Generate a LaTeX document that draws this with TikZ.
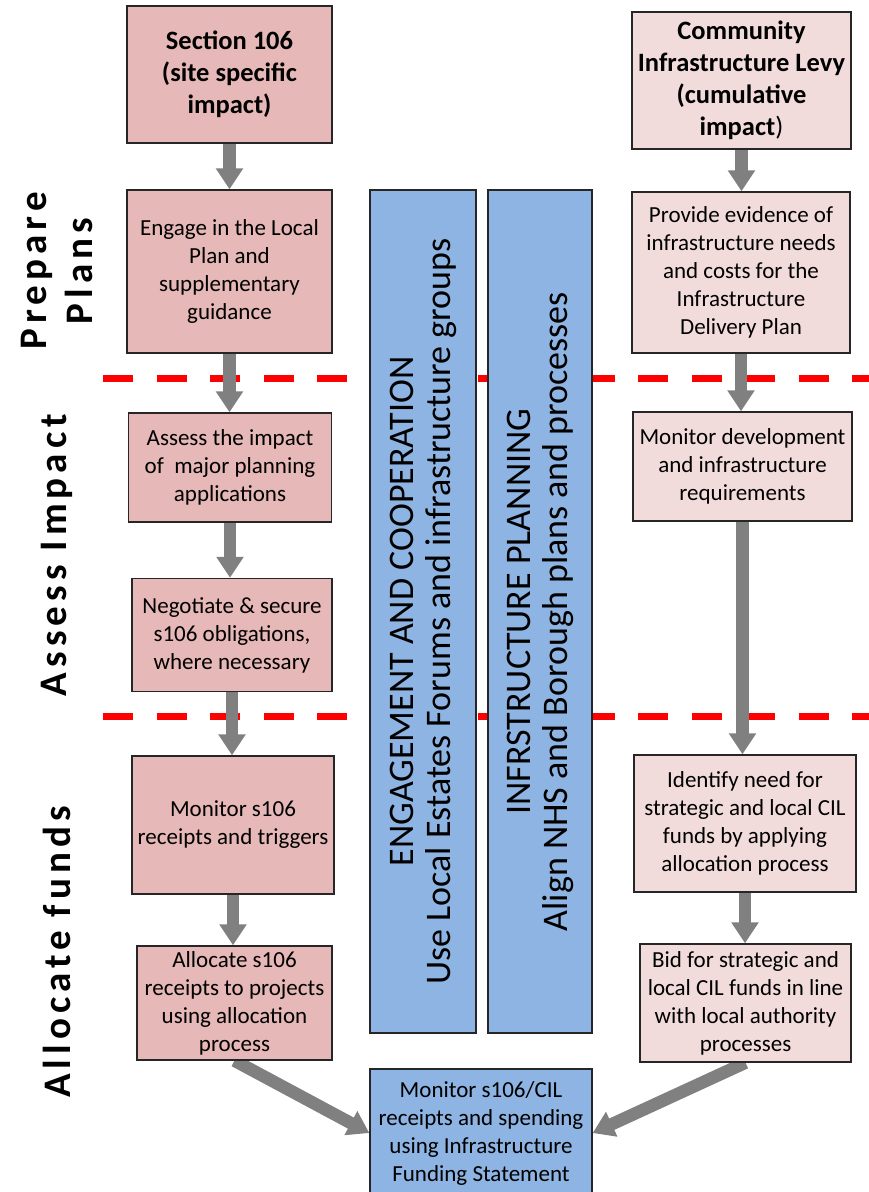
\documentclass[tikz,border=0pt]{standalone}
\usepackage{fontspec}
\setmainfont{Carlito}
\newfontfamily\spacedfont[LetterSpace=13]{Carlito}
\usepackage{xcolor}
\usetikzlibrary{positioning,arrows.meta,backgrounds}
\definecolor{sonepink}{HTML}{E6B8B7}
\definecolor{cilpink}{HTML}{F2DCDB}
\definecolor{barblue}{HTML}{8DB4E2}
\definecolor{arrowgrey}{HTML}{808080}

\begin{document}
\begin{tikzpicture}[x=1pt, y=-1pt,
    box/.style={draw=black!85, line width=1.3pt, align=center, inner sep=0pt,
        font=\fontsize{23}{28}\selectfont},
    wh/.style 2 args={minimum width=#1, minimum height=#2},
    sbox/.style={box, fill=sonepink},
    cbox/.style={box, fill=cilpink},
    bbox/.style={box, fill=barblue},
    head/.style={font=\fontsize{26.5}{32}\selectfont\bfseries},
    bar/.style={bbox, rotate=90, font=\fontsize{36}{37}\selectfont},
    stage/.style={rotate=90, align=center, font=\spacedfont\bfseries\fontsize{39}{46}\selectfont},
    flow/.style={draw=arrowgrey, line width=12.5pt, -{Triangle[width=26pt,length=21pt]}},
    split/.style={draw=red, line width=7pt, dash pattern=on 30pt off 23.5pt}]

    \useasboundingbox (0,0) rectangle (869,1192);

    % stage labels
    \node[stage] (prepare) at (57,271) {Prepare\\Plans};
    \node[stage] (impact) at (57,555) {Assess Impact};
    \node[stage] (funds) at (57,952) {Allocate funds};

    % section 106 column
    \node[sbox, head, wh={205pt}{137pt}] (s106) at (229.5,74.5) {Section 106\\(site specific\\impact)};
    \node[sbox, wh={205pt}{163pt}] (engage) at (229.5,271.5) {Engage in the Local\\Plan and\\supplementary\\guidance};
    \node[sbox, wh={203pt}{109pt}] (assess) at (230,467.5) {Assess the impact\\of~~major planning\\applications};
    \node[sbox, wh={200pt}{113pt}] (negotiate) at (232,635) {Negotiate \& secure\\s106 obligations,\\where necessary};
    \node[sbox, wh={202pt}{138pt}] (monitor) at (233,825) {Monitor s106\\receipts and triggers};
    \node[sbox, wh={195pt}{114pt}] (allocate) at (234.5,1003) {Allocate s106\\receipts to projects\\using allocation\\process};

    % CIL column
    \node[cbox, head, wh={219pt}{137pt}] (cil) at (741.5,80.5) {Community\\Infrastructure Levy\\(cumulative\\impact{\mdseries)}};
    \node[cbox, wh={218pt}{161pt}] (evidence) at (741,272.5) {Provide evidence of\\infrastructure needs\\and costs for the\\Infrastructure\\Delivery Plan};
    \node[cbox, wh={219pt}{109pt}] (monitordev) at (742.5,466.5) {Monitor development\\and infrastructure\\requirements};
    \node[cbox, wh={222pt}{137pt}] (identify) at (745,823.5) {Identify need for\\strategic and local CIL\\funds by applying\\allocation process};
    \node[cbox, wh={211pt}{118pt}] (bid) at (745.5,1003) {Bid for strategic and\\local CIL funds in line\\with local authority\\processes};

    % middle bars
    \node[bar, wh={843pt}{106pt}] (engbar) at (423,611.5) {ENGAGEMENT AND COOPERATION\\Use Local Estates Forums and infrastructure groups};
    \node[bar, wh={843pt}{104pt}] (planbar) at (540,611.5) {INFRSTRUCTURE PLANNING\\Align NHS and Borough plans and processes};
    \node[bbox, wh={222pt}{128pt}] (ifs) at (481,1133) {Monitor s106/CIL\\receipts and spending\\using Infrastructure\\Funding Statement};

    \coordinate (cutA) at (103,378);
    \coordinate (cutB) at (103,716.5);

    \begin{scope}[on background layer]
        \draw[split] (cutA) -- (cutA -| 869,0);
        \draw[split] (cutB) -- (cutB -| 869,0);

        \foreach \a/\b in {s106/engage, engage/assess, assess/negotiate, negotiate/monitor, monitor/allocate,
                           cil/evidence, evidence/monitordev, monitordev/identify, identify/bid}
            \draw[flow] (\a.south) -- (\a.south |- \b.north);

        \draw[flow] (allocate.south) -- (ifs.west);
        \draw[flow] (bid.south) -- (ifs.east);
    \end{scope}
\end{tikzpicture}
\end{document}
